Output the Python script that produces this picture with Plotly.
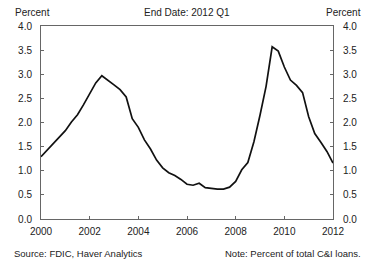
import plotly.graph_objects as go

years = [2000 + 0.25 * i for i in range(49)]
values = [1.29, 1.42, 1.55, 1.68, 1.83, 2.01, 2.16, 2.37, 2.60, 2.82, 2.97, 2.88,
          2.78, 2.68, 2.53, 2.08, 1.90, 1.64, 1.45, 1.22, 1.06, 0.96, 0.90, 0.82,
          0.72, 0.70, 0.74, 0.65, 0.63, 0.62, 0.62, 0.66, 0.78, 1.02, 1.17, 1.60,
          2.15, 2.75, 3.57, 3.48, 3.15, 2.88, 2.77, 2.62, 2.12, 1.77, 1.59, 1.40, 1.16]
x_ticks = [2000, 2002, 2004, 2006, 2008, 2010, 2012]
y_ticks = [0.0, 0.5, 1.0, 1.5, 2.0, 2.5, 3.0, 3.5, 4.0]

FONT = "Liberation Sans, Arial, sans-serif"
fig = go.Figure()
fig.add_trace(go.Scatter(x=years, y=values, mode="lines",
                         line=dict(color="#111111", width=1.7), showlegend=False))
fig.add_trace(go.Scatter(x=[years[0]], y=[values[0]], yaxis="y2", mode="lines",
                         line=dict(width=0), showlegend=False, hoverinfo="skip"))

axis_common = dict(showgrid=False, zeroline=False, showline=True, linecolor="#666666",
                   linewidth=1, ticks="inside", ticklen=3, tickcolor="#666666",
                   tickfont=dict(family=FONT, size=10, color="#222222"))
fig.update_layout(
    width=369, height=262,
    margin=dict(l=41, r=31, t=26, b=43),
    paper_bgcolor="white", plot_bgcolor="white",
    xaxis=dict(range=[2000, 2012], tickvals=x_ticks, ticktext=[str(t) for t in x_ticks],
               mirror=True, ticklabelstandoff=3, **axis_common),
    yaxis=dict(range=[0, 4], tickvals=y_ticks, ticktext=[f"{v:.1f}" for v in y_ticks],
               ticklabelstandoff=6, **axis_common),
    yaxis2=dict(range=[0, 4], tickvals=y_ticks, ticktext=[f"{v:.1f}" for v in y_ticks],
                overlaying="y", side="right", ticklabelstandoff=7, **axis_common),
    annotations=[
        dict(text="Percent", x=0, y=1, xref="paper", yref="paper", xanchor="left",
             yanchor="bottom", xshift=-28, yshift=6, showarrow=False,
             font=dict(family=FONT, size=10, color="#222222")),
        dict(text="End Date: 2012 Q1", x=0.5, y=1, xref="paper", yref="paper",
             xanchor="center", yanchor="bottom", yshift=6, showarrow=False,
             font=dict(family=FONT, size=10, color="#222222")),
        dict(text="Percent", x=1, y=1, xref="paper", yref="paper", xanchor="left",
             yanchor="bottom", xshift=-9, yshift=6, showarrow=False,
             font=dict(family=FONT, size=10, color="#222222")),
        dict(text="Source: FDIC, Haver Analytics", x=0, y=0, xref="paper", yref="paper",
             xanchor="left", yanchor="top", xshift=-29, yshift=-27, showarrow=False,
             font=dict(family=FONT, size=9.5, color="#222222")),
        dict(text="Note: Percent of total C&I loans.", x=1, y=0, xref="paper", yref="paper",
             xanchor="right", yanchor="top", xshift=30, yshift=-27, showarrow=False,
             font=dict(family=FONT, size=9.5, color="#222222")),
    ],
)
fig.write_html("out.html", config={"displayModeBar": False},
               post_script="document.body.style.margin='0';document.body.style.padding='0';")
